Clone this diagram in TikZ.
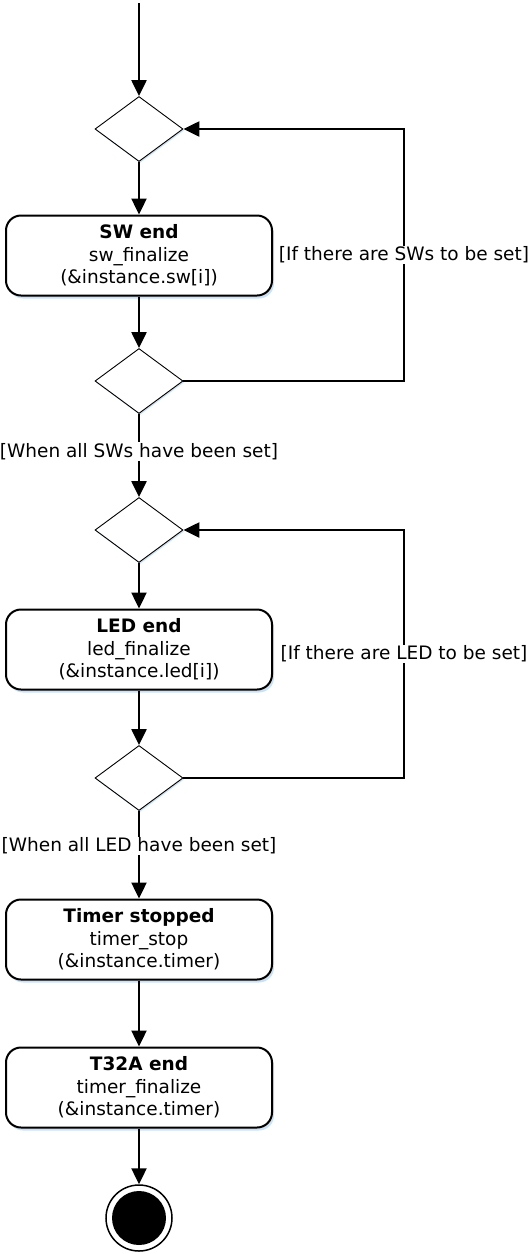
\documentclass[tikz,border=0pt]{standalone}
\usepackage{fontspec}
\setmainfont{DejaVu Sans}
\usetikzlibrary{shapes.geometric,arrows.meta,shadows}
\definecolor{shadowblue}{RGB}{205,225,245}
\begin{document}
\begin{tikzpicture}[x=1pt,y=-1pt,
  conn/.style={line width=2.4pt, -{Triangle[length=16pt,width=15pt]}},
  dec/.style={diamond, draw, line width=0.9pt, minimum width=88pt, minimum height=65pt, inner sep=0pt, fill=white,
    drop shadow={shadow xshift=1pt, shadow yshift=-1.5pt, fill=shadowblue, opacity=1}},
  act/.style={rectangle, rounded corners=15pt, draw, line width=2pt, minimum width=266pt, minimum height=80pt,
    align=center, fill=white, font=\fontsize{18.5}{22.5}\selectfont,
    drop shadow={shadow xshift=2pt, shadow yshift=-3pt, fill=shadowblue, opacity=1}},
  guard/.style={fill=white, inner sep=1pt, font=\fontsize{18.5}{22.5}\selectfont},
]
\useasboundingbox (0,0) rectangle (531,1254);
\coordinate (start) at (139,3);
\coordinate (lx) at (404,0);
\node[dec] (d1) at (139,129) {};
\node[act] (sw) at (139,255.5) {\textbf{SW end}\\sw\_finalize\\(\&instance.sw[i])};
\node[dec] (d2) at (139,381) {};
\node[dec] (d3) at (139,530) {};
\node[act] (led) at (139,649.5) {\textbf{LED end}\\led\_finalize\\(\&instance.led[i])};
\node[dec] (d4) at (139,778) {};
\node[act] (tim) at (139,939.5) {\textbf{Timer stopped}\\timer\_stop\\(\&instance.timer)};
\node[act] (t32) at (139,1087.5) {\textbf{T32A end}\\timer\_finalize\\(\&instance.timer)};
\node[circle, draw, line width=1.5pt, minimum size=66pt, inner sep=0pt] (fin) at (139,1218) {};
\node[circle, fill=black, minimum size=54pt, inner sep=0pt] (fincore) at (fin.center) {};

\draw[conn] (start) -- (d1);
\draw[conn] (d1) -- (sw);
\draw[conn] (sw) -- (d2);
\draw[conn] (d2.east) -- (d2.east -| lx) -- node[guard] {[If there are SWs to be set]} (d1.east -| lx) -- (d1.east);
\draw[conn] (d2) -- node[guard, pos=0.45] {[When all SWs have been set]} (d3);
\draw[conn] (d3) -- (led);
\draw[conn] (led) -- (d4);
\draw[conn] (d4.east) -- (d4.east -| lx) -- node[guard] {[If there are LED to be set]} (d3.east -| lx) -- (d3.east);
\draw[conn] (d4) -- node[guard, pos=0.4] {[When all LED have been set]} (tim);
\draw[conn] (tim) -- (t32);
\draw[conn] (t32) -- (fin);
\end{tikzpicture}
\end{document}
